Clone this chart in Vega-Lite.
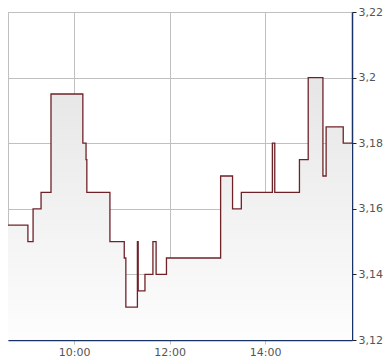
{
  "$schema": "https://vega.github.io/schema/vega-lite/v6.json",
  "width": 344,
  "height": 328,
  "autosize": {"type": "none"},
  "padding": {"left": 8, "top": 12, "right": 38, "bottom": 24},
  "background": "white",
  "config": {
    "view": {"stroke": "#c0c0c0", "strokeWidth": 1},
    "axis": {"labelFont": "DejaVu Sans", "labelFontSize": 11, "labelColor": "#555555", "gridColor": "#c0c0c0", "gridOpacity": 1, "gridWidth": 1}
  },
  "data": {"values": [
    {"t": "2024-01-02T08:37:00", "p": 3.155},
    {"t": "2024-01-02T09:02:00", "p": 3.15},
    {"t": "2024-01-02T09:08:30", "p": 3.16},
    {"t": "2024-01-02T09:18:30", "p": 3.165},
    {"t": "2024-01-02T09:31:00", "p": 3.195},
    {"t": "2024-01-02T10:11:00", "p": 3.18},
    {"t": "2024-01-02T10:15:00", "p": 3.175},
    {"t": "2024-01-02T10:16:00", "p": 3.165},
    {"t": "2024-01-02T10:45:00", "p": 3.15},
    {"t": "2024-01-02T11:03:00", "p": 3.145},
    {"t": "2024-01-02T11:05:00", "p": 3.13},
    {"t": "2024-01-02T11:19:30", "p": 3.15},
    {"t": "2024-01-02T11:20:30", "p": 3.135},
    {"t": "2024-01-02T11:29:00", "p": 3.14},
    {"t": "2024-01-02T11:39:00", "p": 3.15},
    {"t": "2024-01-02T11:43:00", "p": 3.14},
    {"t": "2024-01-02T11:56:00", "p": 3.145},
    {"t": "2024-01-02T13:04:00", "p": 3.17},
    {"t": "2024-01-02T13:19:00", "p": 3.16},
    {"t": "2024-01-02T13:30:00", "p": 3.165},
    {"t": "2024-01-02T14:09:00", "p": 3.18},
    {"t": "2024-01-02T14:12:00", "p": 3.165},
    {"t": "2024-01-02T14:43:00", "p": 3.175},
    {"t": "2024-01-02T14:54:00", "p": 3.2},
    {"t": "2024-01-02T15:12:30", "p": 3.17},
    {"t": "2024-01-02T15:16:30", "p": 3.185},
    {"t": "2024-01-02T15:38:00", "p": 3.18},
    {"t": "2024-01-02T15:49:00", "p": 3.18}
  ]},
  "encoding": {
    "x": {
      "field": "t", "type": "temporal",
      "scale": {"domain": [{"year": 2024, "month": 1, "date": 2, "hours": 8, "minutes": 37}, {"year": 2024, "month": 1, "date": 2, "hours": 15, "minutes": 49}], "nice": false},
      "axis": {"title": null, "format": "%H:%M", "values": [{"year": 2024, "month": 1, "date": 2, "hours": 10}, {"year": 2024, "month": 1, "date": 2, "hours": 12}, {"year": 2024, "month": 1, "date": 2, "hours": 14}], "domainColor": "#1a3366", "domainWidth": 1.5, "tickColor": "#c0c0c0", "tickSize": 4, "labelPadding": 2}
    },
    "y": {
      "field": "p", "type": "quantitative",
      "scale": {"domain": [3.12, 3.22], "nice": false, "zero": false},
      "axis": {"title": null, "orient": "right", "values": [3.12, 3.14, 3.16, 3.18, 3.2, 3.22], "labelExpr": "replace(format(datum.value, '.2~f'), '.', ',')", "domainColor": "#1a3366", "domainWidth": 1.5, "tickColor": "#222222", "tickSize": 4, "labelPadding": 2}
    }
  },
  "layer": [
    {
      "mark": {"type": "area", "interpolate": "step-after", "clip": true, "color": {"gradient": "linear", "x1": 0, "y1": 0, "x2": 0, "y2": 1, "stops": [{"offset": 0, "color": "#e6e6e6"}, {"offset": 1, "color": "#fdfdfd"}]}},
      "encoding": {"y2": {"datum": 3.12}}
    },
    {
      "mark": {"type": "line", "interpolate": "step-after", "color": "#6e2228", "strokeWidth": 1.3},
      "encoding": {}
    }
  ]
}
